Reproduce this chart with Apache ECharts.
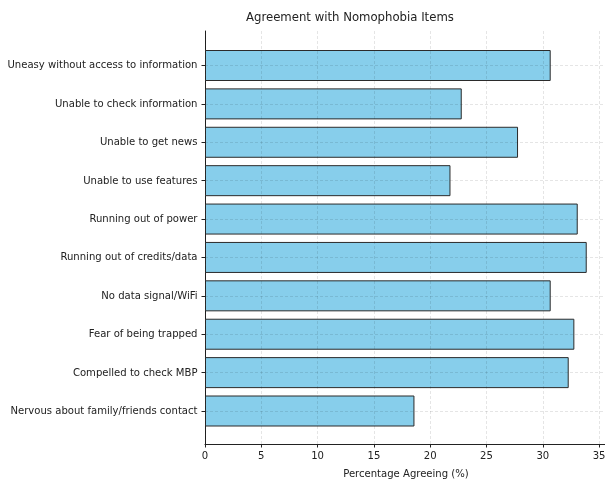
<!DOCTYPE html>
<html><head><meta charset="utf-8">
<script src="https://cdn.jsdelivr.net/npm/echarts@6/dist/echarts.min.js"></script>
<style>html,body{margin:0;padding:0;background:#fff}#c{width:605px;height:482px}</style>
</head><body><div id="c"></div>
<script>
const categories = [
  'Uneasy without access to information',
  'Unable to check information',
  'Unable to get news',
  'Unable to use features',
  'Running out of power',
  'Running out of credits/data',
  'No data signal/WiFi',
  'Fear of being trapped',
  'Compelled to check MBP',
  'Nervous about family/friends contact'
];
const values = [30.7, 22.8, 27.8, 21.8, 33.1, 33.9, 30.7, 32.8, 32.3, 18.6];
const xTicks = [0, 5, 10, 15, 20, 25, 30, 35];

const FONT = '"DejaVu Sans Condensed", "DejaVu Sans", sans-serif';
const FS = 11.2;
const chart = echarts.init(document.getElementById('c'), null, {renderer: 'canvas'});
const gridCol = 'rgba(0,0,0,0.13)';
chart.setOption({
  animation: false,
  title: {
    text: 'Agreement with Nomophobia Items',
    left: 246, top: 11.5, padding: 0,
    textStyle: {fontFamily: FONT, fontSize: 13, fontWeight: 'normal', color: '#222'}
  },
  grid: [
    {left: 205, right: -2, top: 31, bottom: 38, containLabel: false, outerBoundsMode: 'none'},
    {left: 205, right: -2, top: 65.5, bottom: 71, containLabel: false, outerBoundsMode: 'none'}
  ],
  xAxis: [
    {
      gridIndex: 0, type: 'value', min: 0, max: 35.7, interval: 5, z: 5,
      name: 'Percentage Agreeing (%)', nameLocation: 'middle', nameGap: 25,
      nameTextStyle: {fontFamily: FONT, fontSize: FS, color: '#222'},
      axisLine: {show: true, lineStyle: {color: '#222', width: 1}},
      axisTick: {show: true, length: 3.5, lineStyle: {color: '#222'}},
      axisLabel: {fontFamily: FONT, fontSize: FS, color: '#222', margin: 7,
        formatter: v => xTicks.includes(v) ? String(v) : ''},
      splitLine: {show: true, lineStyle: {color: gridCol, type: [3, 2], width: 0.8}}
    },
    {gridIndex: 1, type: 'value', min: 0, max: 35.7, show: false}
  ],
  yAxis: [
    {
      gridIndex: 0, type: 'value', min: 0, max: 1,
      axisLine: {show: true, lineStyle: {color: '#222', width: 1}},
      axisTick: {show: false}, axisLabel: {show: false}, splitLine: {show: false}
    },
    {
      gridIndex: 1, type: 'category', data: categories, inverse: true, boundaryGap: false, z: 5,
      axisLine: {show: false},
      axisTick: {show: true, length: 3.5, alignWithLabel: true, lineStyle: {color: '#222'}},
      axisLabel: {fontFamily: FONT, fontSize: FS, color: '#222', margin: 7.5},
      splitLine: {show: true, lineStyle: {color: gridCol, type: [3, 2], width: 0.8}}
    }
  ],
  series: [{
    type: 'bar', xAxisIndex: 1, yAxisIndex: 1, data: values, barWidth: 31,
    itemStyle: {color: '#87CEEB', borderColor: '#2b2b2b', borderWidth: 1}
  }]
});
</script></body></html>
